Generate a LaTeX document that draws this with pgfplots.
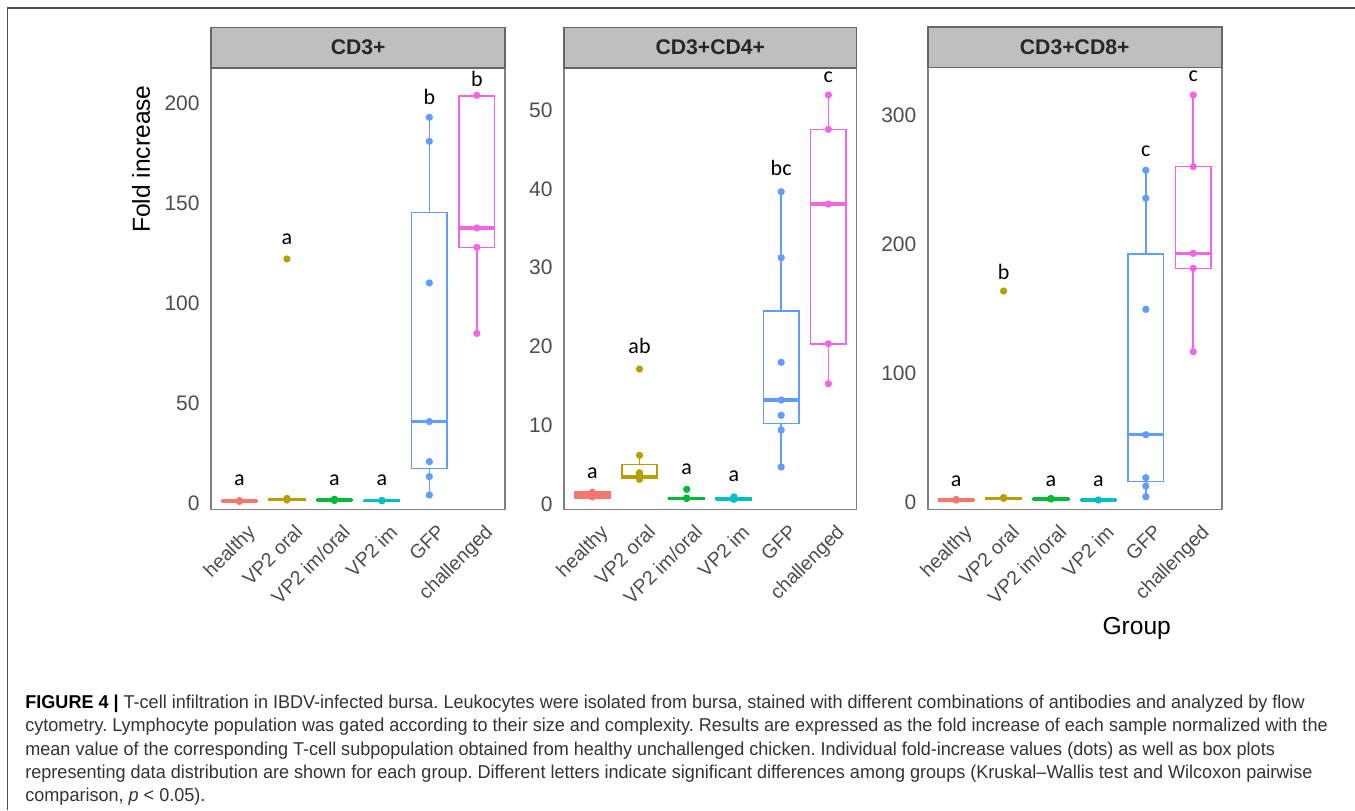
\documentclass[border=0pt]{standalone}
\usepackage{fontspec}
\setmainfont{Liberation Sans}
\newfontfamily\letterfont{Carlito}
\newfontfamily\capfont[FakeStretch=0.97]{Liberation Sans}
\usepackage{pgfplots}
\pgfplotsset{compat=1.18}
\usepgfplotslibrary{statistics}
\frenchspacing

\definecolor{cHea}{HTML}{F8766D}
\definecolor{cOra}{HTML}{B79F00}
\definecolor{cImo}{HTML}{00BA38}
\definecolor{cIm}{HTML}{00BFC4}
\definecolor{cGFP}{HTML}{619CFF}
\definecolor{cCha}{HTML}{F564E3}
\definecolor{tickgray}{HTML}{4D4D4D}
\definecolor{stripgray}{HTML}{BFBFBF}

% one box: colour, position, lower whisker, q1, median, q3, upper whisker
\newcommand{\bx}[7]{\addplot[#1, solid, line width=0.8pt,
  boxplot prepared={draw position=#2, lower whisker=#3, lower quartile=#4,
  median=#5, upper quartile=#6, upper whisker=#7}] coordinates {};}
\newcommand{\pts}[2]{\addplot[#1, only marks, mark=*, mark size=1.6pt] coordinates {#2};}

\pgfplotsset{
  facet/.style={
    scale only axis, height=220.8pt, anchor=south west,
    xmin=0.4, xmax=6.6, xtick={1,...,6},
    xticklabels={healthy, VP2 oral, VP2 im/oral, VP2 im, GFP, challenged},
    clip=false,
    axis line style={draw=black!50, line width=0.8pt},
    major tick length=0pt,
    tick label style={font=\fontsize{10.5}{12}\selectfont, text=tickgray},
    xticklabel style={rotate=45, anchor=north east, inner sep=0pt,
      yshift=-7.2pt, xshift=-2.4pt, font=\fontsize{9.8}{11}\selectfont},
    yticklabel style={inner sep=0pt, xshift=-5.5pt},
    /pgf/number format/assume math mode=true,
    boxplot/draw direction=y,
    boxplot/box extend=0.75,
    boxplot/whisker extend=0,
    boxplot/every whisker/.style={line width=0.8pt},
    boxplot/every box/.style={line width=0.8pt},
    boxplot/every median/.style={line width=1.6pt},
  },
  letters/.style={draw=none, mark=none, nodes near coords, point meta=explicit symbolic,
    nodes near coords style={anchor=center, inner sep=0pt, text=black,
      font=\letterfont\fontsize{11}{12}\selectfont}},
}
\newcommand{\strip}[1]{%
  \draw[fill=stripgray, draw=black!60, line width=0.8pt]
    (rel axis cs:0,1) rectangle ([yshift=20.2pt]rel axis cs:1,1);
  \node[font=\bfseries\fontsize{10.6}{12}\selectfont, text=black!85]
    at ([yshift=10.1pt]rel axis cs:0.5,1) {#1};}

\begin{document}
\begin{tikzpicture}
\useasboundingbox (0,0) rectangle (677.5pt,405pt);
\draw[black!70, line width=0.8pt] (3.65pt,0) -- (3.65pt,401pt) -- (677.5pt,401pt);

% ---- CD3+
\begin{axis}[facet, at={(105.5pt,150.35pt)}, width=147.15pt,
  ymin=-3.15, ymax=217.6, ytick={0,50,100,150,200},
  ylabel={Fold increase},
  every axis y label/.style={at={([xshift=-35pt]rel axis cs:0,0.793)}, rotate=90,
    anchor=center, font=\fontsize{12.3}{14}\selectfont}]
\bx{cHea}{1}{0.7}{0.85}{1.0}{1.15}{1.3}
\bx{cOra}{2}{1.4}{1.5}{1.8}{2.3}{2.4}
\bx{cImo}{3}{1.2}{1.3}{1.5}{1.8}{1.9}
\bx{cIm}{4}{1.0}{1.1}{1.2}{1.3}{1.4}
\bx{cGFP}{5}{4.0}{17.3}{40.7}{145.2}{192.8}
\bx{cCha}{6}{84.8}{127.8}{137.5}{203.5}{203.5}
\pts{cHea}{(1,0.8) (1,1.0) (1,1.2)}
\pts{cOra}{(2,1.5) (2,1.8) (2,2.3) (2,122)}
\pts{cImo}{(3,1.3) (3,1.5) (3,1.9)}
\pts{cIm}{(4,1.1) (4,1.3)}
\pts{cGFP}{(5,192.8) (5,180.8) (5,110) (5,40.7) (5,20.7) (5,13.2) (5,4.0)}
\pts{cCha}{(6,203.8) (6,137.5) (6,127.8) (6,84.8)}
\addplot[letters] coordinates {(1,11.5) [a] (2,132) [a] (3,11.5) [a] (4,11.5) [a] (5,203) [b] (6,212) [b]};
\strip{CD3+}
\end{axis}

% ---- CD3+CD4+
\begin{axis}[facet, at={(282pt,150.35pt)}, width=146.35pt,
  ymin=-0.67, ymax=55.37, ytick={0,10,20,30,40,50}]
\bx{cHea}{1}{0.8}{0.8}{1.15}{1.56}{1.56}
\bx{cOra}{2}{3.13}{3.34}{3.45}{5.04}{6.18}
\bx{cImo}{3}{0.62}{0.65}{0.72}{0.8}{0.85}
\bx{cIm}{4}{0.55}{0.58}{0.63}{0.75}{0.9}
\bx{cGFP}{5}{4.70}{10.24}{13.2}{24.49}{39.63}
\bx{cCha}{6}{15.27}{20.34}{38.07}{47.55}{51.9}
\pts{cHea}{(1,0.9) (1,1.0) (1,1.2) (1,1.5)}
\pts{cOra}{(2,3.13) (2,3.68) (2,3.97) (2,6.18) (2,17.13)}
\pts{cImo}{(3,0.7) (3,0.76) (3,1.87)}
\pts{cIm}{(4,0.6) (4,0.7) (4,0.9)}
\pts{cGFP}{(5,39.63) (5,31.26) (5,17.98) (5,13.2) (5,11.26) (5,9.39) (5,4.70)}
\pts{cCha}{(6,51.9) (6,47.55) (6,38.07) (6,20.34) (6,15.27)}
\addplot[letters] coordinates {(1,3.97) [a] (2,20.05) [ab] (3,4.40) [a] (4,3.55) [a] (5,42.68) [bc] (6,54.1) [c]};
\strip{CD3+CD4+}
\end{axis}

% ---- CD3+CD8+
\begin{axis}[facet, at={(463.85pt,150.35pt)}, width=147pt,
  ymin=-5.1, ymax=337.2, ytick={0,100,200,300},
  xlabel={Group},
  every axis x label/.style={at={([yshift=-59.4pt]rel axis cs:0.711,0)},
    anchor=center, font=\fontsize{12.3}{14}\selectfont}]
\bx{cHea}{1}{1.5}{1.7}{2.1}{2.5}{2.7}
\bx{cOra}{2}{2.6}{2.9}{3.4}{4.0}{4.2}
\bx{cImo}{3}{2.3}{2.5}{2.9}{3.3}{3.5}
\bx{cIm}{4}{1.6}{1.8}{2.1}{2.4}{2.6}
\bx{cGFP}{5}{4.65}{16.3}{52.7}{192.8}{257.7}
\bx{cCha}{6}{117.1}{181.7}{193.3}{260.5}{316.0}
\pts{cHea}{(1,2.1) (1,2.5)}
\pts{cOra}{(2,3.4) (2,4.0) (2,164.1)}
\pts{cImo}{(3,2.9) (3,3.3)}
\pts{cIm}{(4,2.1)}
\pts{cGFP}{(5,257.7) (5,236.0) (5,149.9) (5,52.7) (5,19.4) (5,12.9) (5,4.65)}
\pts{cCha}{(6,316.0) (6,260.5) (6,193.3) (6,181.7) (6,117.1)}
\addplot[letters] coordinates {(1,16.3) [a] (2,179.1) [b] (3,16.3) [a] (4,16.3) [a] (5,272.6) [c] (6,330.8) [c]};
\strip{CD3+CD8+}
\end{axis}

% ---- caption
\begin{scope}[every node/.style={anchor=base west, inner sep=0pt, text=black!80,
    font=\capfont\fontsize{9.3}{11}\selectfont}]
\node at (12.5pt,50.8pt) {\textcolor{black}{\bfseries FIGURE 4 |} T-cell infiltration in IBDV-infected bursa. Leukocytes were isolated from bursa, stained with different combinations of antibodies and analyzed by flow};
\node at (12.5pt,39.15pt) {cytometry. Lymphocyte population was gated according to their size and complexity. Results are expressed as the fold increase of each sample normalized with the};
\node at (12.5pt,27.5pt) {mean value of the corresponding T-cell subpopulation obtained from healthy unchallenged chicken. Individual fold-increase values (dots) as well as box plots};
\node at (12.5pt,15.85pt) {representing data distribution are shown for each group. Different letters indicate significant differences among groups (Kruskal–Wallis test and Wilcoxon pairwise};
\node at (12.5pt,4.2pt) {comparison, \textit{p} < 0.05).};
\end{scope}
\end{tikzpicture}
\end{document}
